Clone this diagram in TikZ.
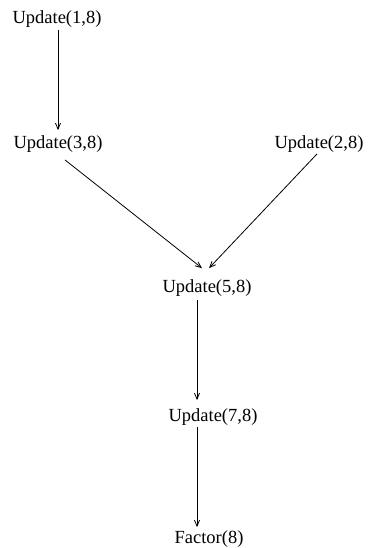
\documentclass[tikz,border=0pt]{standalone}
\usepackage{fontspec}
\setmainfont{Liberation Serif}
\usetikzlibrary{arrows.meta}

\begin{document}
\begin{tikzpicture}[x=1pt, y=-1pt,
	>={Straight Barb[length=6pt,width=5pt]},
	every path/.style={line width=0.8pt},
	task/.style={inner sep=0, outer sep=0, anchor=base,
				font=\fontsize{18.5}{20}\selectfont}]
	\useasboundingbox (0,0) rectangle (368,548);
	\node[task] (u18) at (57,24) {Update(1,8)};
	\node[task] (u38) at (58,149) {Update(3,8)};
	\node[task] (u28) at (319,149) {Update(2,8)};
	\node[task] (u58) at (207,292) {Update(5,8)};
	\node[task] (u78) at (213,421) {Update(7,8)};
	\node[task] (f8) at (209,543) {Factor(8)};
	\draw[->] ([xshift=1pt,yshift=-2pt]u18.south) -- ([yshift=6pt]u38.north);
	\draw[->] ([xshift=7pt,yshift=-7pt]u38.south) -- ([xshift=-5pt,yshift=11pt]u58.north);
	\draw[->] ([xshift=-2pt,yshift=-1pt]u28.south) -- ([xshift=2pt,yshift=11pt]u58.north);
	\draw[->] ([xshift=-10pt,yshift=-4pt]u58.south) -- ([xshift=-16pt,yshift=8pt]u78.north);
	\draw[->] ([xshift=-16pt,yshift=-2pt]u78.south) -- ([xshift=-12pt,yshift=3pt]f8.north);
\end{tikzpicture}
\end{document}
